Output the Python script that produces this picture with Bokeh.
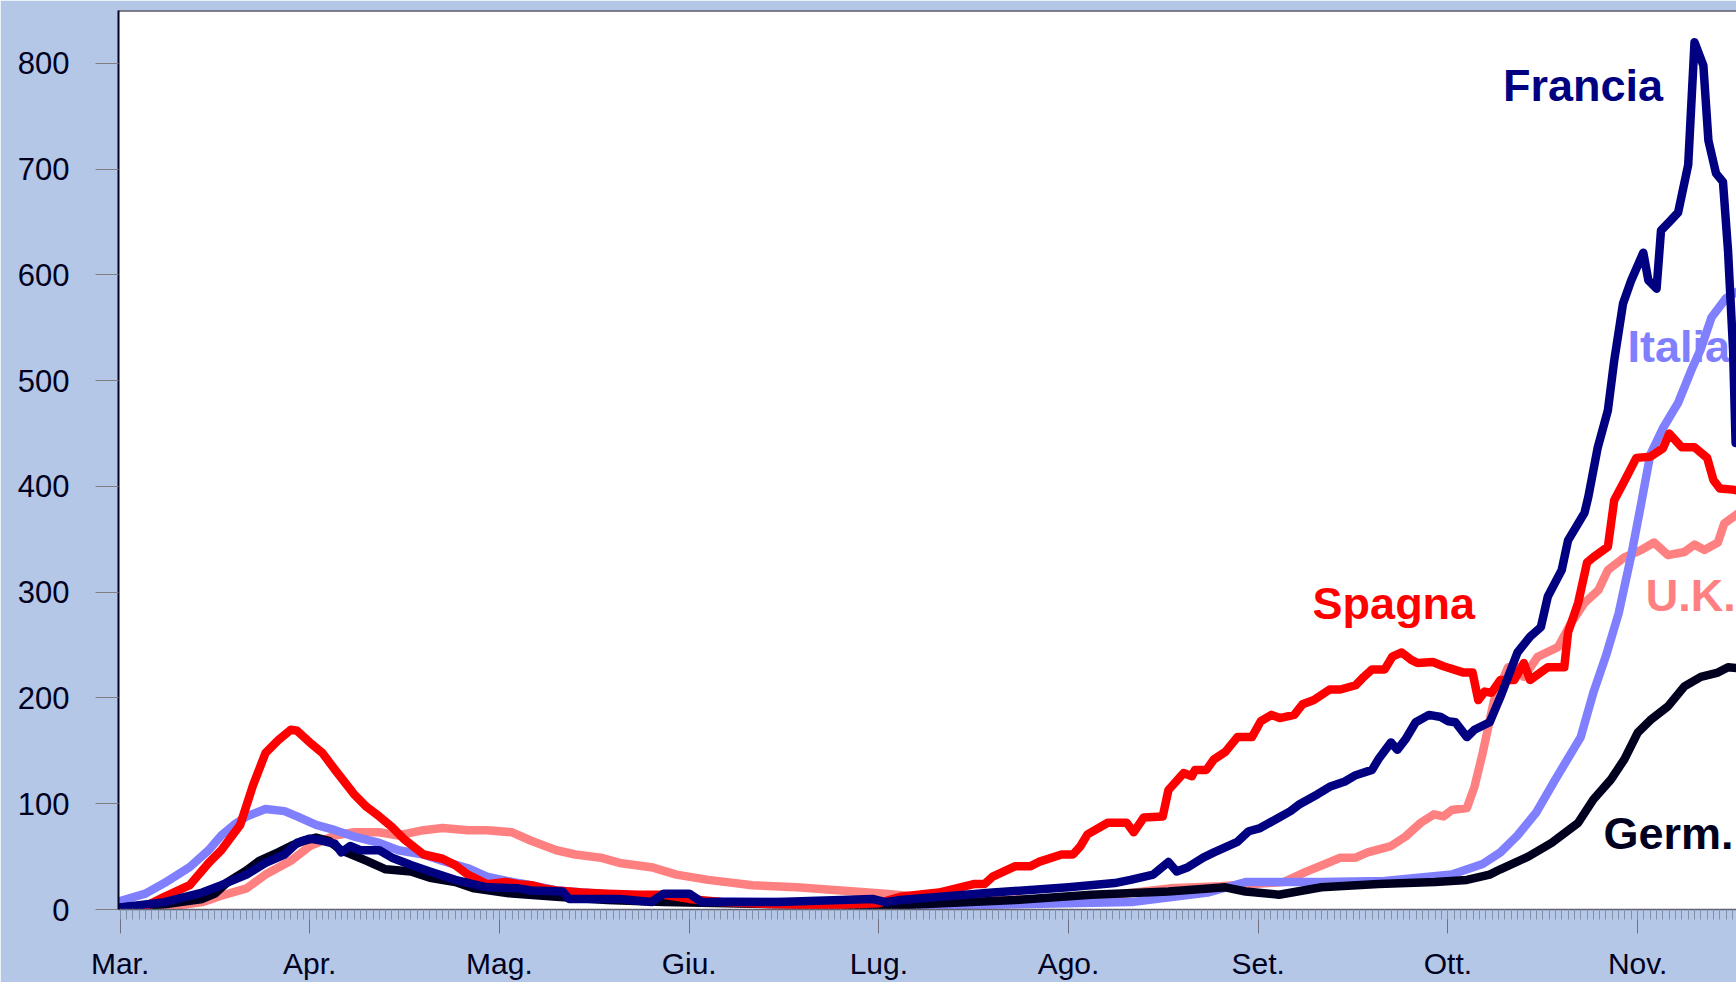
from bokeh.plotting import figure
from bokeh.models import FixedTicker, Span
from bokeh.core.properties import value
from bokeh.embed import file_html
from bokeh.resources import INLINE

# ---- data (day index from 1 March) ----
month_labels = ["Mar.", "Apr.", "Mag.", "Giu.", "Lug.", "Ago.", "Set.", "Ott.", "Nov."]
month_ticks = [0, 30, 60, 90, 120, 150, 180, 210, 240]

spagna_d = [0, 4, 7, 11, 14, 16, 19, 21, 23, 25, 27, 28, 30, 32, 34, 37, 39, 41, 43, 45, 48, 51, 53, 55, 58,
            61, 63, 65, 67, 69, 73, 77, 82, 86, 90, 95, 104, 112, 120, 123.4, 129.5, 135, 136.7, 138, 141.6, 144,
            145.3, 148.9, 150.7, 151.9, 153, 156.2, 159.2, 160.3, 161.9, 164.9, 165.8, 168.2, 169.5, 170, 171.8,
            173, 174.8, 176.7, 179, 180.4, 182.1, 183.4, 185.7, 187, 188.8, 191.3, 193, 195.4, 196.7, 198, 200,
            201.2, 202.7, 204.2, 205.2, 207.6, 209.3, 212.5, 213.9, 214.8, 215.8, 216.9, 218.3, 220.5, 222, 223,
            225.8, 228.4, 229, 230.6, 232, 233, 235.3, 236.3, 238, 239.8, 242, 244, 245, 247, 249, 251, 252, 253,
            255, 256]
spagna_v = [0, 3, 12, 23, 44, 56, 80, 117, 148, 160, 170, 169, 158, 148, 132, 109, 97, 88, 78, 66, 52, 48, 42,
            33, 24, 26, 24, 23, 20, 18, 16, 15, 14, 14, 10, 7, 5, 4, 6, 12, 16, 24, 24, 31, 41, 41, 45, 52, 52,
            60, 71, 82, 82, 73, 87, 88, 113, 129, 126, 132, 132, 142, 149, 163, 163, 178, 184, 181, 184, 194,
            198, 208, 208, 212, 220, 227, 227, 239, 243, 236, 233, 234, 230, 224, 224, 198, 206, 205, 217, 217,
            233, 217, 229, 229, 262, 290, 328, 333, 343, 387, 406, 427, 428, 436, 450, 437, 437, 427, 406, 398,
            397, 396]

italia_d = [0, 4, 7, 11, 14, 16, 18, 20, 23, 26, 28, 31, 34, 37, 41, 44, 48, 51, 55, 58, 62, 65, 69, 76, 83, 90,
            104, 123, 160, 172, 178, 190, 200, 210.6, 215.5, 218.3, 221, 224, 227, 231, 233, 235, 237, 239,
            240.6, 242, 244, 246.4, 248.5, 250, 251.7, 254, 256]
italia_v = [8, 15, 25, 40, 56, 70, 80, 88, 95, 93, 88, 80, 75, 69, 63, 56, 52, 46, 39, 31, 26, 23, 18, 15, 12, 8,
            7, 3, 7, 16, 26, 26, 27, 33, 43, 54, 70, 92, 123, 163, 205, 240, 280, 335, 385, 430, 455, 479, 510,
            530, 560, 578, 585]

francia_d = [0, 7, 13, 16, 20, 23, 26, 28, 30, 32, 34, 35, 36.4, 38, 41, 43, 46, 49, 53, 58, 63, 65, 70, 71, 79,
             84, 86, 90, 92, 104, 119, 121, 123.4, 138, 150, 157.3, 159.8, 163.4, 165.8, 167.1, 168.9, 171.3, 173,
             176.7, 178.5, 180.3, 183.3, 185.1, 186.4, 189.4, 191.3, 193.7, 195.4, 198, 199, 201, 202, 203.3,
             204.9, 207, 208.9, 210, 211.2, 213, 214.2, 216.6, 218.3, 221, 223, 224.7, 225.8, 228, 229, 231.6,
             232.2, 233.7, 235.3, 236.3, 237.7, 239, 240.9, 241.7, 243, 243.7, 245, 246.4, 248, 249, 250.4,
             251.2, 252.4, 253.5, 254.3, 255.1, 255.5]
francia_v = [2, 7, 16, 23, 33, 44, 52, 63, 67, 65, 62, 54, 60, 56, 56, 49, 42, 36, 28, 21, 20, 18, 17, 10, 10, 7,
             15, 15, 7, 7, 10, 7, 9, 16, 21, 25, 28, 33, 45, 36, 40, 49, 54, 64, 74, 77, 87, 93, 99, 109, 116,
             121, 127, 132, 142, 158, 151, 161, 177, 184, 182, 178, 177, 163, 170, 177, 201, 243, 258, 267, 296,
             321, 349, 375, 390, 437, 472, 519, 573, 595, 621, 595, 587, 642, 650, 659, 704, 820, 798, 727, 696,
             688, 623, 529, 441]

uk_d = [0, 7, 13, 16, 20, 23, 27, 30, 34, 37, 41, 44, 48, 51, 55, 58, 62, 65, 69, 72, 76, 79, 84, 88, 93, 100,
        107, 114, 121, 130, 139, 147, 156, 166, 174, 184, 187.7, 190.6, 193, 195.4, 197.3, 201, 203.3, 205.7,
        207.8, 209.3, 210.6, 213, 214.2, 215.5, 217.3, 219.5, 221, 222, 224.2, 227.4, 229.5, 231.6, 233.8, 235.3,
        237.9, 240.6, 242.6, 244.8, 247.4, 249, 250.6, 252.7, 253.7, 256]
uk_v = [0, 2, 7, 13, 20, 33, 46, 60, 70, 73, 73, 70, 75, 77, 75, 75, 73, 65, 56, 52, 49, 44, 40, 33, 28, 23, 21,
        18, 15, 10, 9, 10, 13, 20, 22, 26, 36, 43, 49, 49, 54, 60, 69, 82, 90, 88, 94, 96, 116, 148, 198, 229,
        229, 220, 239, 248, 271, 290, 302, 321, 333, 340, 347, 335, 338, 345, 340, 347, 365, 375]

germ_d = [0, 7, 13, 15, 17, 20, 22, 25, 27, 29, 31, 33, 35, 39, 42, 46, 49, 53, 56, 62, 69, 77, 86, 104, 123,
          141.6, 153.6, 165.8, 174.8, 178, 183.3, 190, 199, 208, 213, 216.6, 218.3, 222.7, 226.4, 230.6, 233,
          235.8, 237.9, 240, 242, 244.8, 247.4, 250, 252.7, 254.3, 256]
germ_v = [2, 5, 10, 15, 26, 37, 46, 54, 60, 65, 68, 65, 56, 46, 38, 36, 30, 26, 20, 15, 12, 9, 7, 5, 4, 9, 14,
          17, 21, 17, 14, 21, 24, 26, 28, 33, 38, 50, 63, 82, 104, 123, 142, 167, 179, 192, 211, 220, 224, 229,
          228]

names = ["Francia", "Italia", "Spagna", "U.K.", "Germ."]

# ---- styles ----
BG = "#B4C7E7"
INK = "#000020"
colors = {"Francia": "#000080", "Italia": "#8080FF", "Spagna": "#FF0000", "U.K.": "#FF8080", "Germ.": "#00001E"}
label_pos = {"Francia": (218.7, 779), "Italia": (238.4, 532), "Spagna": (188.6, 289),
             "U.K.": (241.3, 297), "Germ.": (234.6, 72)}
FONT = "Liberation Sans"

p = figure(width=1736, height=982, x_range=(-0.25, 255.64), y_range=(0, 850),
           output_backend="svg", toolbar_location=None,
           min_border_left=118, min_border_right=0, min_border_top=10, min_border_bottom=72)
p.border_fill_color = BG
p.background_fill_color = "white"
p.outline_line_color = None
p.grid.visible = False

# series labels (drawn under the lines)
for n in names:
    x, y = label_pos[n]
    p.text(x=[x], y=[y], text=[n], text_color=colors[n], text_font=value(FONT),
           text_font_style="bold", text_font_size="45px", text_align="left", text_baseline="middle")

series = {"U.K.": (uk_d, uk_v), "Italia": (italia_d, italia_v), "Germ.": (germ_d, germ_v),
          "Spagna": (spagna_d, spagna_v), "Francia": (francia_d, francia_v)}
for n, (d, v) in series.items():
    p.line(d, v, line_color=colors[n], line_width=8.5, line_join="round", line_cap="round")

p.add_layout(Span(location=850, dimension="width", line_color=INK, line_width=2))

# x axis
xa = p.xaxis[0]
xa.ticker = FixedTicker(ticks=month_ticks, minor_ticks=list(range(0, 257)))
xa.major_label_overrides = {t: l for t, l in zip(month_ticks, month_labels)}
xa.axis_line_color = "#606070"
xa.axis_line_width = 1.5
xa.major_tick_line_color = "#707080"
xa.major_tick_out = 24
xa.major_tick_in = 0
xa.minor_tick_line_color = "#8090A8"
xa.minor_tick_out = 10
xa.minor_tick_in = 0
xa.major_label_standoff = 13
xa.major_label_text_font = FONT
xa.major_label_text_font_size = "30px"
xa.major_label_text_color = INK

# y axis
ya = p.yaxis[0]
ya.ticker = FixedTicker(ticks=[0, 100, 200, 300, 400, 500, 600, 700, 800], minor_ticks=[])
ya.axis_line_color = INK
ya.axis_line_width = 2
ya.major_tick_line_color = "#808080"
ya.major_tick_out = 23
ya.major_tick_in = 0
ya.major_label_standoff = 26
ya.major_label_text_font = FONT
ya.major_label_text_font_size = "31px"
ya.major_label_text_color = INK

open("out.html", "w").write(file_html(p, INLINE))
